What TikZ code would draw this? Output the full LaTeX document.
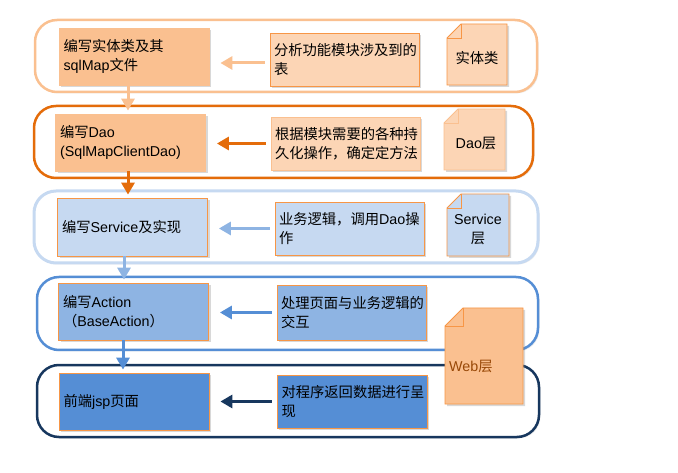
\documentclass[tikz,border=0pt]{standalone}
\usepackage{fontspec}
\setmainfont{Liberation Sans}
\newfontfamily\zhfont{Noto Sans CJK SC}
\newcommand\zh[1]{{\zhfont #1}}
\usetikzlibrary{shadows,arrows.meta}
\definecolor{orA}{HTML}{FAC090}
\definecolor{orB}{HTML}{FCD5B5}
\definecolor{orC}{HTML}{F79646}
\definecolor{orD}{HTML}{E46C0A}
\definecolor{blA}{HTML}{C6D9F1}
\definecolor{blB}{HTML}{8EB4E3}
\definecolor{blC}{HTML}{558ED5}
\definecolor{blD}{HTML}{17375E}
\definecolor{brn}{HTML}{984807}
\newcommand\docshape[7]{% x1 y1 x2 y2 fold fill draw
  \filldraw[docbox, fill=#6, draw=#7] ({#1+#5},#2) -- (#3,#2) -- (#3,#4) -- (#1,#4) -- (#1,{#2+#5}) -- cycle;
  \draw[line width=0.8pt, draw=#7] ({#1+#5},#2) -- ({#1+#5},{#2+#5}) -- (#1,{#2+#5});
}
\begin{document}
\begin{tikzpicture}[x=1pt,y=-1pt,
  font=\fontsize{14.3}{19}\selectfont,
  outerbox/.style={rounded corners=22pt, line width=2.5pt, fill=white,
    drop shadow={opacity=0.15, shadow xshift=1.5pt, shadow yshift=-1.5pt}},
  ibox/.style={draw, line width=0.8pt, minimum width=150pt, minimum height=57pt,
    text width=141pt, inner xsep=4.5pt, inner ysep=3pt, align=left,
    drop shadow={opacity=0.3, shadow xshift=2pt, shadow yshift=-2pt}},
  tbox/.style={draw, line width=0.8pt, minimum width=149pt, minimum height=53pt,
    text width=141pt, inner xsep=4pt, inner ysep=3pt, align=left,
    drop shadow={opacity=0.3, shadow xshift=2pt, shadow yshift=-2pt}},
  docbox/.style={line width=0.8pt,
    drop shadow={opacity=0.3, shadow xshift=2pt, shadow yshift=-2pt}},
  harrow/.style={line width=3pt, -{Triangle[length=12pt,width=13pt]}, shorten <=5pt, shorten >=11pt},
  varrow/.style={line width=3pt, -{Triangle[length=12pt,width=13pt]}, shorten >=3pt}
]
\useasboundingbox (0,0) rectangle (678,473);

% outer rounded frames
\draw[outerbox, draw=orA] (35,20) rectangle (537,92);
\draw[outerbox, draw=orD] (34,106) rectangle (533,178);
\draw[outerbox, draw=blA, line width=3pt] (34,191) rectangle (538,263);
\draw[outerbox, draw=blC] (37,277) rectangle (538,350);
\draw[outerbox, draw=blD] (37,365) rectangle (539,437);

% row 1
\node[ibox, fill=orA, draw=orA] (i1) at (134,56.5) {\zh{编写实体类及其}\\sqlMap\zh{文件}};
\node[tbox, fill=orB, draw=orC] (t1) at (344.5,59.5) {\zh{分析功能模块涉及到的}\\\zh{表}};
\docshape{447}{24}{507}{85}{14}{orB}{orC}
\node (d1) at (477,58) {\zh{实体类}};

% row 2
\node[ibox, fill=orA, draw=orA] (i2) at (130.5,142.5) {\zh{编写}Dao\\(SqlMapClientDao)};
\node[tbox, fill=orB, draw=orA] (t2) at (345.5,143.5) {\zh{根据模块需要的各种持}\\\zh{久化操作，确定定方法}};
\docshape{444}{109}{505}{170}{14}{orB}{orA}
\node (d2) at (476,143) {Dao\zh{层}};

% row 3
\node[ibox, fill=blA, draw=orC, minimum height=58pt] (i3) at (132.5,227) {\zh{编写}Service\zh{及实现}};
\node[tbox, fill=blA, draw=orC] (t3) at (349.5,228.5) {\zh{业务逻辑，调用}Dao\zh{操}\\\zh{作}};
\docshape{447}{194}{509}{256}{14}{blA}{orC}
\node[align=center, inner sep=0pt] (d3) at (478,229) {Service\\\zh{层}};

% row 4
\node[ibox, fill=blB, draw=orC] (i4) at (133.5,311.5) {\zh{编写}Action\\\zh{（}BaseAction\zh{）}};
\node[tbox, fill=blB, draw=orC, minimum height=55pt] (t4) at (351.5,312.5) {\zh{处理页面与业务逻辑的}\\\zh{交互}};

% row 5
\node[ibox, fill=blC, draw=orC] (i5) at (134,401.5) {\zh{前端}jsp\zh{页面}};
\node[tbox, fill=blC, draw=orC, minimum width=150pt] (t5) at (352,401.5) {\zh{对程序返回数据进行呈}\\\zh{现}};

% web layer document
\docshape{445}{308}{523}{404}{18}{orA}{orC}
\node[anchor=west, text=brn, inner sep=0pt] (d4) at (449,366) {Web\zh{层}};

% horizontal arrows
\draw[harrow, orA] ([yshift=-3.5pt]t1.west) -- ([yshift=-3.5pt]t1.west -| i1.east);
\draw[harrow, orD] (t2.west) -- (t2.west -| i2.east);
\draw[harrow, blB] (t3.west) -- (t3.west -| i3.east);
\draw[harrow, blC] (t4.west) -- (t4.west -| i4.east);
\draw[harrow, blD] (t5.west) -- (t5.west -| i5.east);

% vertical arrows
\draw[varrow, orA] ([xshift=-6pt]i1.south) -- ([xshift=-6pt]i1.south |- i2.north);
\draw[varrow, orD] ([xshift=-2.5pt]i2.south) -- ([xshift=-2.5pt]i2.south |- i3.north);
\draw[varrow, blB] ([xshift=-8.5pt]i3.south) -- ([xshift=-8.5pt]i3.south |- i4.north);
\draw[varrow, blC] ([xshift=-10.5pt]i4.south) -- ([xshift=-10.5pt]i4.south |- i5.north);
\end{tikzpicture}
\end{document}
